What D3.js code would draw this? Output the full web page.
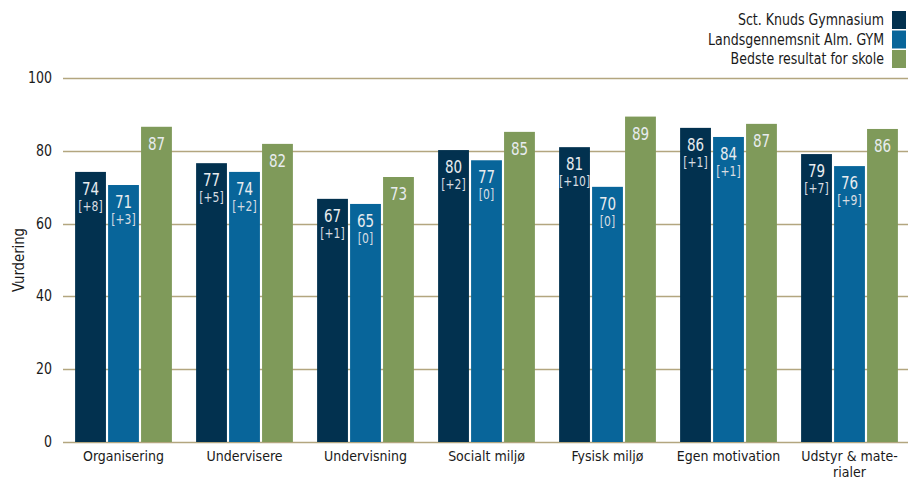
<!DOCTYPE html>
<html>
<head>
<meta charset="utf-8">
<script src="https://cdn.jsdelivr.net/npm/d3@7"></script>
<style>
  html, body { margin: 0; padding: 0; background: #fff; }
  svg text { font-family: "DejaVu Sans Condensed", "DejaVu Sans", sans-serif; }
</style>
</head>
<body>
<svg id="chart" width="908" height="480"></svg>
<script>
const categories = ["Organisering", "Undervisere", "Undervisning", "Socialt miljø", "Fysisk miljø", "Egen motivation", "Udstyr & materialer"];
const categoryLines = [["Organisering"], ["Undervisere"], ["Undervisning"], ["Socialt miljø"], ["Fysisk miljø"], ["Egen motivation"], ["Udstyr & mate-", "rialer"]];
const seriesNames = ["Sct. Knuds Gymnasium", "Landsgennemsnit Alm. GYM", "Bedste resultat for skole"];
const sctKnuds = [74.2, 76.6, 66.8, 80.2, 81.0, 86.3, 79.1];
const landsgennemsnit = [70.6, 74.2, 65.4, 77.4, 70.1, 83.8, 75.8];
const bedste = [86.6, 81.9, 72.8, 85.2, 89.4, 87.4, 86.0];
const sctKnudsDiff = ["[+8]", "[+5]", "[+1]", "[+2]", "[+10]", "[+1]", "[+7]"];
const landsDiff = ["[+3]", "[+2]", "[0]", "[0]", "[0]", "[+1]", "[+9]"];
const yTicks = [0, 20, 40, 60, 80, 100];
const colors = ["#02314f", "#08659a", "#7f9a5a"];

const SY = 1.15; // vertical stretch of the reference typeface
const svg = d3.select("#chart");
const plotLeft = 63, plotRight = 910, plotTop = 78, plotBottom = 442;

const x0 = d3.scaleBand().domain(categories).range([plotLeft, plotRight]).paddingInner(0.2).paddingOuter(0.1);
const x1 = d3.scaleBand().domain([0, 1, 2]).range([0, x0.bandwidth()]).paddingInner(0.065);
const y = d3.scaleLinear().domain([0, 100]).range([plotBottom, plotTop]);

function place(sel, fx, fy) {
  return sel.attr("transform", (d, i) => `translate(${fx(d, i)},${fy(d, i)}) scale(1,${SY})`);
}

// gridlines
svg.append("g").selectAll("line").data(yTicks).join("line")
  .attr("x1", plotLeft).attr("x2", 908)
  .attr("y1", d => Math.round(y(d)) + 0.5).attr("y2", d => Math.round(y(d)) + 0.5)
  .attr("stroke", "#b3a67f").attr("stroke-width", 1.3);

// y axis labels
place(svg.append("g").selectAll("text").data(yTicks).join("text"), () => 52, d => y(d) + 5)
  .attr("text-anchor", "end").attr("font-size", 14).attr("fill", "#1a1a1a")
  .text(d => d);

svg.append("text")
  .attr("transform", `translate(24, ${(plotTop + plotBottom) / 2}) rotate(-90) scale(1.05,1.1)`)
  .attr("text-anchor", "middle").attr("font-size", 14).attr("fill", "#1a1a1a")
  .text("Vurdering");

const rows = categories.map((c, i) => ({
  cat: c,
  vals: [
    { s: 0, v: sctKnuds[i], diff: sctKnudsDiff[i] },
    { s: 1, v: landsgennemsnit[i], diff: landsDiff[i] },
    { s: 2, v: bedste[i], diff: null }
  ]
}));

const groups = svg.append("g").selectAll("g").data(rows).join("g")
  .attr("transform", d => `translate(${x0(d.cat)},0)`);

groups.selectAll("rect").data(d => d.vals).join("rect")
  .attr("x", d => x1(d.s)).attr("width", x1.bandwidth())
  .attr("y", d => y(d.v)).attr("height", d => y(0) - y(d.v))
  .attr("fill", d => colors[d.s]);

place(groups.selectAll("text.val").data(d => d.vals).join("text").attr("class", "val"),
    d => x1(d.s) + x1.bandwidth() / 2, d => y(d.v) + 23)
  .attr("text-anchor", "middle").attr("font-size", 15).attr("fill", "#e8ecef")
  .text(d => Math.round(d.v));

place(groups.selectAll("text.diff").data(d => d.vals.filter(v => v.diff)).join("text").attr("class", "diff"),
    d => x1(d.s) + x1.bandwidth() / 2, d => y(d.v) + 39)
  .attr("text-anchor", "middle").attr("font-size", 12).attr("fill", "#d8dde2")
  .text(d => d.diff);

// category labels
categories.forEach((c, i) => {
  const t = svg.append("text")
    .attr("transform", `translate(${x0(c) + x0.bandwidth() / 2},460.5)`)
    .attr("text-anchor", "middle").attr("font-size", 14).attr("fill", "#1a1a1a");
  categoryLines[i].forEach((line, j) => {
    t.append("tspan").attr("x", 0).attr("dy", j === 0 ? 0 : 16.2).text(line);
  });
});

// legend
const legend = svg.append("g").selectAll("g").data(seriesNames).join("g")
  .attr("transform", (d, i) => `translate(0, ${11 + i * 19.5})`);
legend.append("rect").attr("x", 892).attr("y", 0).attr("width", 14).attr("height", 18)
  .attr("fill", (d, i) => colors[i]);
legend.append("text").attr("transform", `translate(884,14) scale(1,${SY})`)
  .attr("text-anchor", "end").attr("font-size", 14).attr("fill", "#1a1a1a")
  .text(d => d);
</script>
</body>
</html>
